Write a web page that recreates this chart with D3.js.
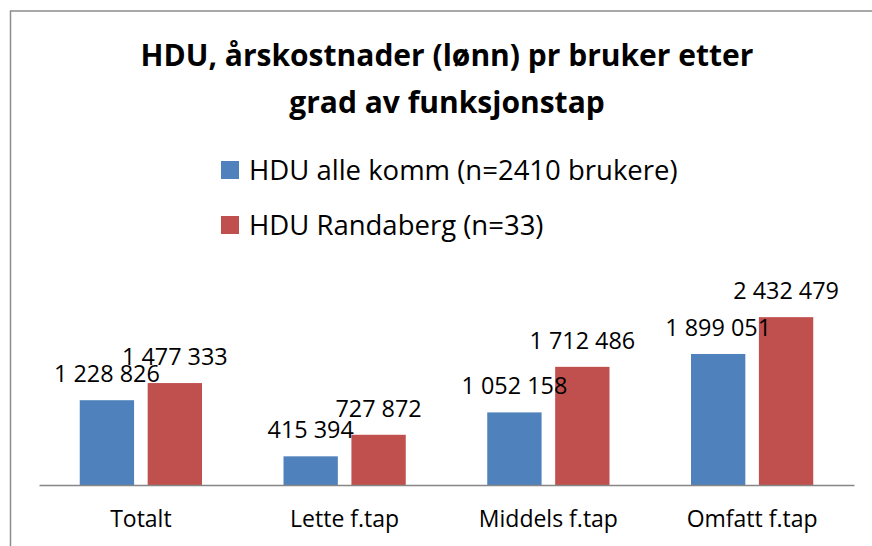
<!DOCTYPE html>
<html>
<head>
<meta charset="utf-8">
<script src="https://cdn.jsdelivr.net/npm/d3@7"></script>
<style>
  body { margin: 0; background: #fff; }
  svg text { font-family: "Open Sans", Lato, sans-serif; fill: #000; }
</style>
</head>
<body>
<svg></svg>
<script>
// categories and series
var categories = ["Totalt", "Lette f.tap", "Middels f.tap", "Omfatt f.tap"];
var seriesNames = ["HDU alle komm (n=2410 brukere)", "HDU Randaberg (n=33)"];
var alleKomm = [1228826, 415394, 1052158, 1899051];
var randaberg = [1477333, 727872, 1712486, 2432479];
var colors = ["#4F81BD", "#C0504D"];

var screen = {width: 872, height: 546};
var svg = d3.select("svg")
    .attr("width", screen.width)
    .attr("height", screen.height);

// chart border (runs off the picture on right and bottom)
svg.append("rect")
    .attr("x", 10.5).attr("y", 11)
    .attr("width", 880).attr("height", 560)
    .attr("fill", "none")
    .attr("stroke", "#8c8c8c")
    .attr("stroke-width", 1.5);

// title
var title = svg.append("text")
    .attr("text-anchor", "middle")
    .attr("font-weight", "bold")
    .attr("font-size", "30px");
title.append("tspan").attr("x", 447).attr("y", 66).text("HDU, årskostnader (lønn) pr bruker etter");
title.append("tspan").attr("x", 447).attr("y", 113).text("grad av funksjonstap");

// legend
var legend = svg.selectAll(".legend")
    .data(seriesNames)
    .enter()
    .append("g")
    .attr("transform", function(d, i) { return "translate(221," + (161 + i * 55) + ")"; });
legend.append("rect")
    .attr("width", 18).attr("height", 18)
    .attr("fill", function(d, i) { return colors[i]; });
legend.append("text")
    .attr("x", 28).attr("y", 19)
    .attr("font-size", "27.5px")
    .text(function(d) { return d; });

// scales
var x0 = d3.scaleBand()
    .domain(categories)
    .range([39, 854])
    .paddingInner(0.4)
    .paddingOuter(0.2);
var x1 = d3.scaleBand()
    .domain([0, 1])
    .range([0, x0.bandwidth()])
    .paddingInner(0.2);
var y = d3.scaleLinear()
    .domain([0, 3000000])
    .range([485, 278]);

var fmt = d3.formatLocale({decimal: ",", thousands: " ", grouping: [3], currency: ["", " kr"]}).format(",d");

var rows = categories.map(function(c, i) {
    return {cat: c, vals: [alleKomm[i], randaberg[i]]};
});

var groups = svg.selectAll(".grp")
    .data(rows)
    .enter()
    .append("g")
    .attr("transform", function(d) { return "translate(" + x0(d.cat) + ",0)"; });

groups.selectAll("rect")
    .data(function(d) { return d.vals; })
    .enter()
    .append("rect")
    .attr("x", function(v, i) { return x1(i); })
    .attr("y", function(v) { return y(v); })
    .attr("width", x1.bandwidth())
    .attr("height", function(v) { return y(0) - y(v); })
    .attr("fill", function(v, i) { return colors[i]; });

groups.selectAll("text")
    .data(function(d) { return d.vals; })
    .enter()
    .append("text")
    .attr("x", function(v, i) { return x1(i) + x1.bandwidth() / 2; })
    .attr("y", function(v) { return y(v) - 18; })
    .attr("text-anchor", "middle")
    .attr("font-size", "23.4px")
    .text(function(v) { return fmt(v); });

// x axis
var xAxis = d3.axisBottom(x0).tickSize(0).tickPadding(26);
var ax = svg.append("g")
    .attr("transform", "translate(0," + y(0) + ")")
    .call(xAxis);
ax.select(".domain").attr("stroke", "#868686").attr("stroke-width", 1.5);
ax.selectAll("text")
    .attr("font-size", "23px")
    .style("font-family", "'Open Sans', Lato, sans-serif")
    .attr("fill", "#000");
</script>
</body>
</html>
